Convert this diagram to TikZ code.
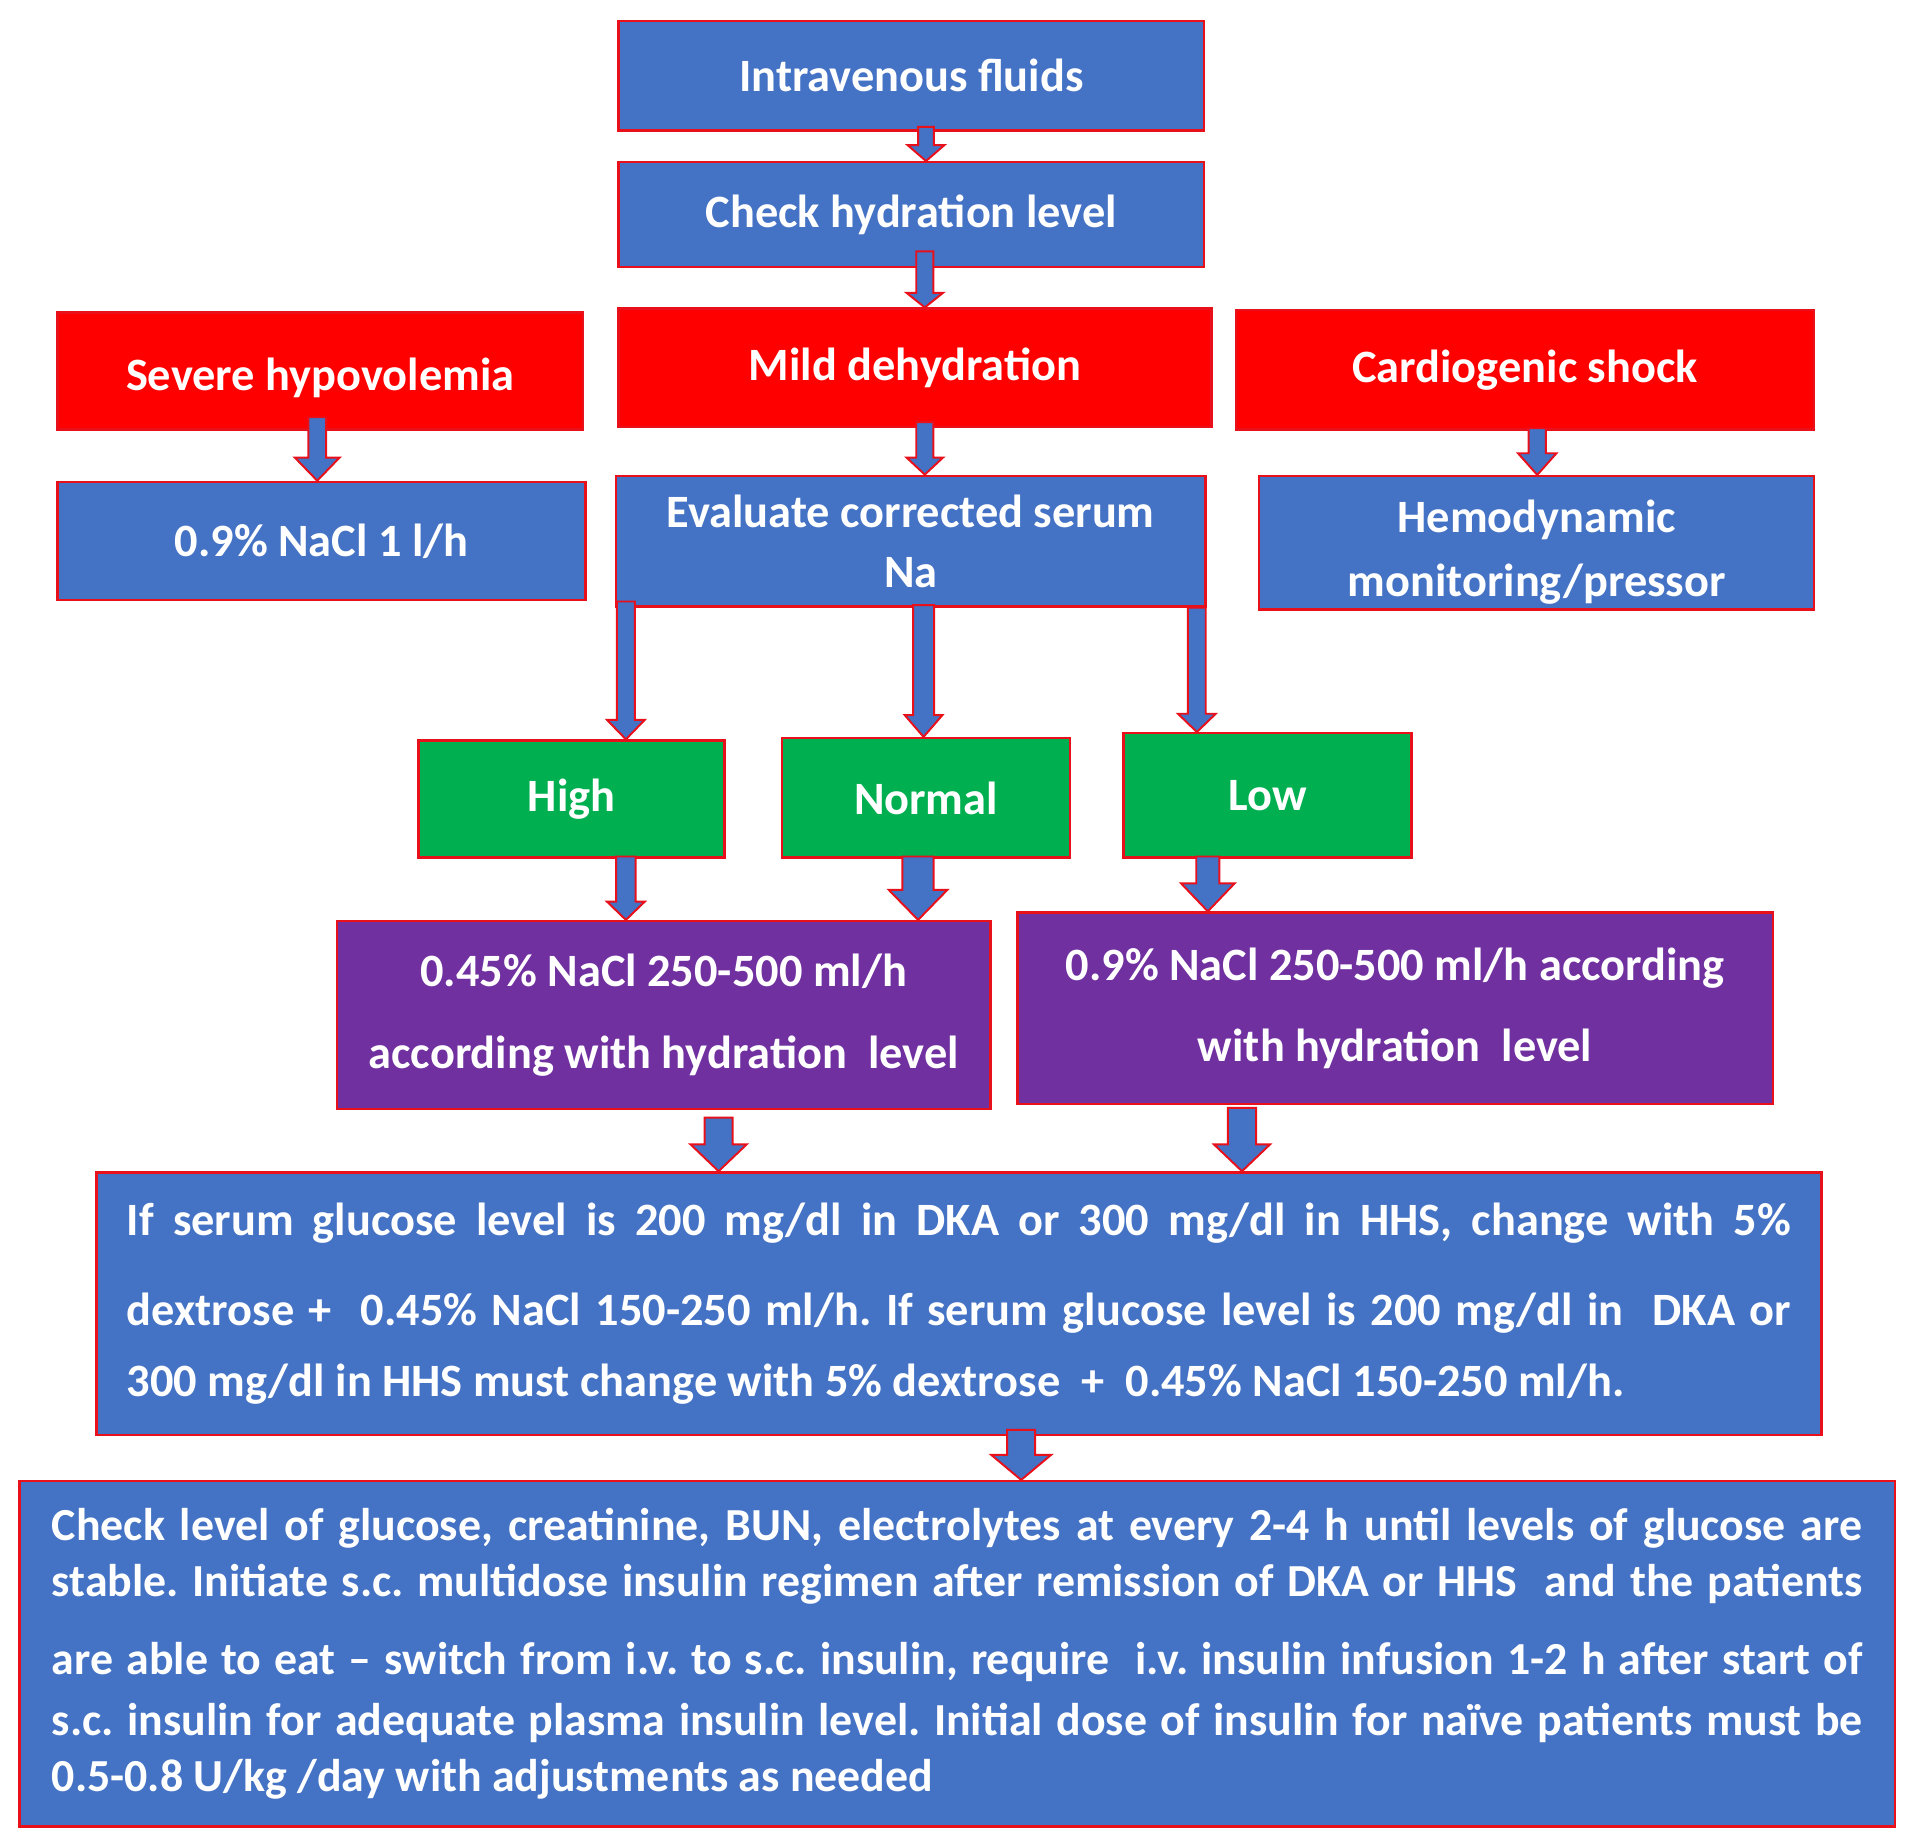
\documentclass[tikz,border=0pt]{standalone}
\usepackage{fontspec}
\setmainfont{Carlito}
\usetikzlibrary{calc}
\frenchspacing

\definecolor{boxblue}{HTML}{4472C4}
\definecolor{boxred}{HTML}{FF0000}
\definecolor{boxgreen}{HTML}{00B050}
\definecolor{boxpurple}{HTML}{7030A0}
\definecolor{edgered}{HTML}{E8101A}

% block arrow pointing down: start, target, shaft half width, head half width, head length
\newcommand{\flowarrow}[5]{%
  \draw[arrowline] let \p1=(#1), \p2=(#2) in
    (\x1-#3,\y1) -- (\x1+#3,\y1) -- (\x1+#3,\y2+#5) -- (\x1+#4,\y2+#5)
    -- (\x1,\y2) -- (\x1-#4,\y2+#5) -- (\x1-#3,\y2+#5) -- cycle;}
% one justified line of given width inside a wide box
\newcommand{\jline}[2]{\makebox[#1][s]{#2}}

\tikzset{
  box/.style={draw=edgered, line width=1pt, text=white, align=center,
    font=\bfseries\fontsize{19}{23}\selectfont, inner sep=2pt},
  bluebox/.style={box, fill=boxblue},
  redbox/.style={box, fill=boxred},
  greenbox/.style={box, fill=boxgreen},
  purplebox/.style={box, fill=boxpurple, font=\bfseries\fontsize{19}{33.5}\selectfont},
  arrowline/.style={draw=edgered, line width=0.8pt, fill=boxblue},
}

\begin{document}
\begin{tikzpicture}[x=0.5pt, y=-0.5pt]
    \useasboundingbox (0,0) rectangle (1568,1512);

    % top of the chart
    \node[bluebox, minimum width=240pt, minimum height=45pt] (fluids) at (747,62)
    {Intravenous fluids};
    \node[bluebox, minimum width=240pt, minimum height=43pt] (check) at (747,176)
    {Check hydration level};

    % three states
    \node[redbox, minimum width=215.5pt, minimum height=48pt, text height=16pt,
      text depth=0pt] (severe) at (262.5,304)
    {Severe hypovolemia};
    \node[redbox, minimum width=243pt, minimum height=48.5pt] (mild) at (750,301.5)
    {Mild dehydration};
    \node[redbox, minimum width=237pt, minimum height=49pt] (cardio) at (1250,303)
    {Cardiogenic shock};

    \node[bluebox, minimum width=216.5pt, minimum height=48.5pt] (nacl) at (263.5,443.5)
    {0.9\% NaCl 1 l/h};
    \node[bluebox, minimum width=241.5pt, minimum height=53.5pt,
      font=\bfseries\fontsize{19}{24.5}\selectfont] (serum) at (746.5,443.5)
    {Evaluate corrected serum\\Na};
    \node[bluebox, minimum width=227.5pt, minimum height=52pt,
      font=\bfseries\fontsize{19}{26.5}\selectfont] (hemo) at (1259.5,445)
    {\rule{0pt}{21pt}Hemodynamic\\monitoring/pressor};

    % serum Na
    \node[greenbox, minimum width=125.5pt, minimum height=48pt] (high) at (468.5,655) {High};
    \node[greenbox, minimum width=118pt, minimum height=49pt] (normal) at (759,654) {Normal};
    \node[greenbox, minimum width=118pt, minimum height=51pt] (low) at (1039,652) {Low};

    \node[purplebox, minimum width=268pt, minimum height=77pt] (halfsal) at (544,832)
    {0.45\% NaCl 250-500 ml/h\\according with hydration\ \ level};
    \node[purplebox, minimum width=309.5pt, minimum height=78.5pt] (fullsal) at (1143.5,826.5)
    {0.9\% NaCl 250-500 ml/h according\\with hydration\ \ level};

    % bottom boxes
    \node[bluebox, minimum width=707pt, minimum height=107.5pt, text width=682pt,
      align=justify] (glucose) at (786,1068.5)
    {\jline{682pt}{If serum glucose level is 200 mg/dl in DKA or 300 mg/dl in HHS, change with 5\%}\\[14pt]
     \jline{682pt}{dextrose +\ \ 0.45\% NaCl 150-250 ml/h. If serum glucose level is 200 mg/dl in\ \ DKA or}\\[6pt]
     300 mg/dl in HHS must change with 5\% dextrose\ \ +\ \ 0.45\% NaCl 150-250 ml/h.};

    \node[bluebox, minimum width=768.5pt, minimum height=141.5pt, text width=742pt,
      align=justify, font=\bfseries\fontsize{18.8}{23}\selectfont] (monitor) at (784.5,1355.5)
    {\jline{742pt}{Check level of glucose, creatinine, BUN, electrolytes at every 2-4 h until levels of glucose are}\\
     \jline{742pt}{stable. Initiate s.c. multidose insulin regimen after remission of DKA or HHS\ \ and the patients}\\[9pt]
     \jline{742pt}{are able to eat – switch from i.v. to s.c. insulin, require\ \ i.v. insulin infusion 1-2 h after start of}\\[2pt]
     \jline{742pt}{s.c. insulin for adequate plasma insulin level. Initial dose of insulin for naïve patients must be}\\
     0.5-0.8 U/kg /day with adjustments as needed};

    % arrows
    \flowarrow{$(fluids.south)+(12,-4)$}{check.north}{3.25pt}{7.5pt}{6.5pt}
    \flowarrow{$(check.south)+(11,-14)$}{mild.north}{3.5pt}{7.5pt}{6pt}
    \flowarrow{$(severe.south)+(-2.5,-11)$}{nacl.north}{3.65pt}{9.2pt}{9.5pt}
    \flowarrow{$(mild.south)+(8,-5)$}{serum.north}{3.5pt}{7.5pt}{7pt}
    \flowarrow{$(cardio.south)+(10,-2)$}{hemo.north}{3.5pt}{7.9pt}{8.9pt}
    \flowarrow{$(serum.south)+(-233.5,-5)$}{high.north}{3.65pt}{7.75pt}{8pt}
    \flowarrow{$(serum.south)+(10.5,-2)$}{normal.north}{4.3pt}{7.7pt}{8.9pt}
    \flowarrow{$(serum.south)+(234.5,0)$}{low.north}{3.65pt}{7.75pt}{7.5pt}
    \flowarrow{$(high.south)+(44.5,-2)$}{halfsal.north}{4pt}{7.75pt}{7.5pt}
    \flowarrow{$(normal.south)+(-6.5,-2)$}{halfsal.north}{6.4pt}{12pt}{12.3pt}
    \flowarrow{$(low.south)+(-49,-2)$}{fullsal.north}{4.75pt}{11pt}{11.5pt}
    \flowarrow{$(halfsal.south)+(45,6)$}{glucose.north}{5.75pt}{11.5pt}{11pt}
    \flowarrow{$(fullsal.south)+(-125.5,2)$}{glucose.north}{5.75pt}{11.5pt}{11pt}
    \flowarrow{$(glucose.south)+(51,-5)$}{monitor.north}{5.75pt}{12.25pt}{10.25pt}

\end{tikzpicture}
\end{document}
